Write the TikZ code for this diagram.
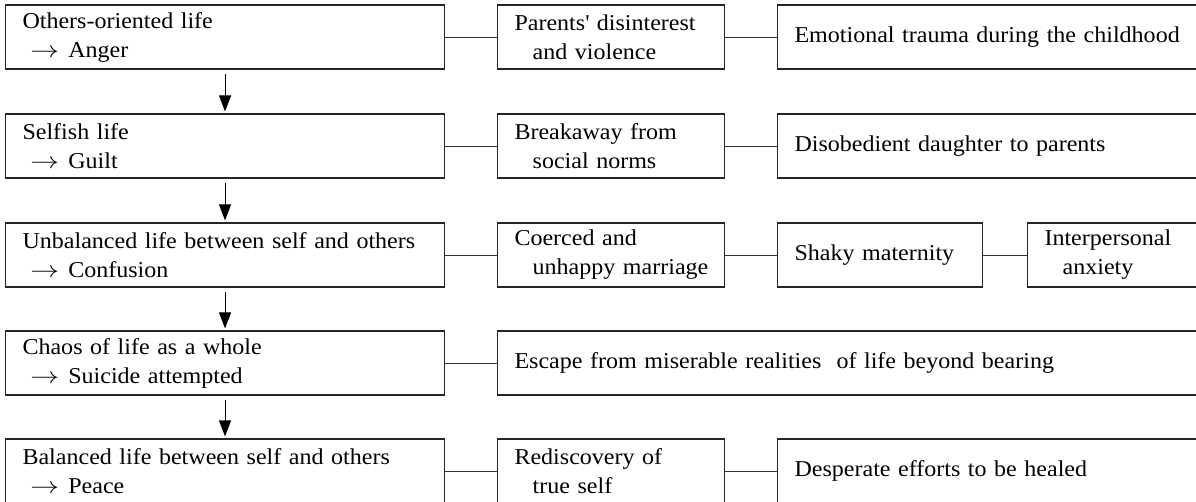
\documentclass[tikz,border=0pt]{standalone}
\usepackage{fontspec}
\setmainfont[FakeStretch=1.06]{Liberation Serif}
\usetikzlibrary{arrows.meta}

\tikzset{
  lifebox/.style={draw=black!85, line width=0.8pt, rectangle, anchor=west,
    minimum height=48pt, inner xsep=12.75pt, inner ysep=0pt,
    align=left, text width=#1, font=\fontsize{17}{21.75}\selectfont},
  link/.style={draw=black!80, line width=0.6pt},
  flow/.style={draw=black, line width=0.8pt, shorten <=3pt, shorten >=1.5pt,
    -{Triangle[width=9pt,length=12pt]}}
}
\newcommand{\lto}{\hspace*{0.35em}\scalebox{1.25}[1]{$\rightarrow$}\hspace{0.4em}}
\newcommand{\ind}{\hspace*{0.8em}}

\begin{document}
\begin{tikzpicture}[x=0.75pt, y=-0.75pt]
  \useasboundingbox (0,0) rectangle (1196,502);

  \node[lifebox=303.75pt] (lifeA) at (5,37) {Others-oriented life\\\lto Anger};
  \node[lifebox=144.75pt] (causeA) at (497,37) {Parents\textquotesingle\ disinterest\\\ind and violence};
  \node[lifebox=306.75pt] (rootA) at (777,37) {\mbox{Emotional trauma during the childhood}};

  \node[lifebox=303.75pt] (lifeB) at (5,146) {Selfish life\\\lto Guilt};
  \node[lifebox=144.75pt] (causeB) at (497,146) {Breakaway from\\\ind social norms};
  \node[lifebox=306.75pt] (rootB) at (777,146) {Disobedient daughter to parents};

  \node[lifebox=303.75pt] (lifeC) at (5,255) {Unbalanced life between self and others\\\lto Confusion};
  \node[lifebox=144.75pt] (causeC) at (497,255) {Coerced and\\\mbox{\ind unhappy marriage}};
  \node[lifebox=128.25pt] (rootC) at (777,255) {Shaky maternity};
  \node[lifebox=119.25pt] (extraC) at (1027,255) {Interpersonal\\\ind anxiety};

  \node[lifebox=303.75pt] (lifeD) at (5,363) {Chaos of life as a whole\\\lto Suicide attempted};
  \node[lifebox=516.75pt] (causeD) at (497,363) {Escape from miserable realities~ of life beyond bearing};

  \node[lifebox=303.75pt] (lifeE) at (5,471) {Balanced life between self and others\\\lto Peace};
  \node[lifebox=144.75pt] (causeE) at (497,471) {Rediscovery of\\\ind true self};
  \node[lifebox=306.75pt] (rootE) at (777,471) {Desperate efforts to be healed};

  \draw[link] (lifeA) -- (causeA) -- (rootA);
  \draw[link] (lifeB) -- (causeB) -- (rootB);
  \draw[link] (lifeC) -- (causeC) -- (rootC) -- (extraC);
  \draw[link] (lifeD) -- (causeD);
  \draw[link] (lifeE) -- (causeE) -- (rootE);

  \draw[flow] (lifeA) -- (lifeB);
  \draw[flow] (lifeB) -- (lifeC);
  \draw[flow] (lifeC) -- (lifeD);
  \draw[flow] (lifeD) -- (lifeE);
\end{tikzpicture}
\end{document}
